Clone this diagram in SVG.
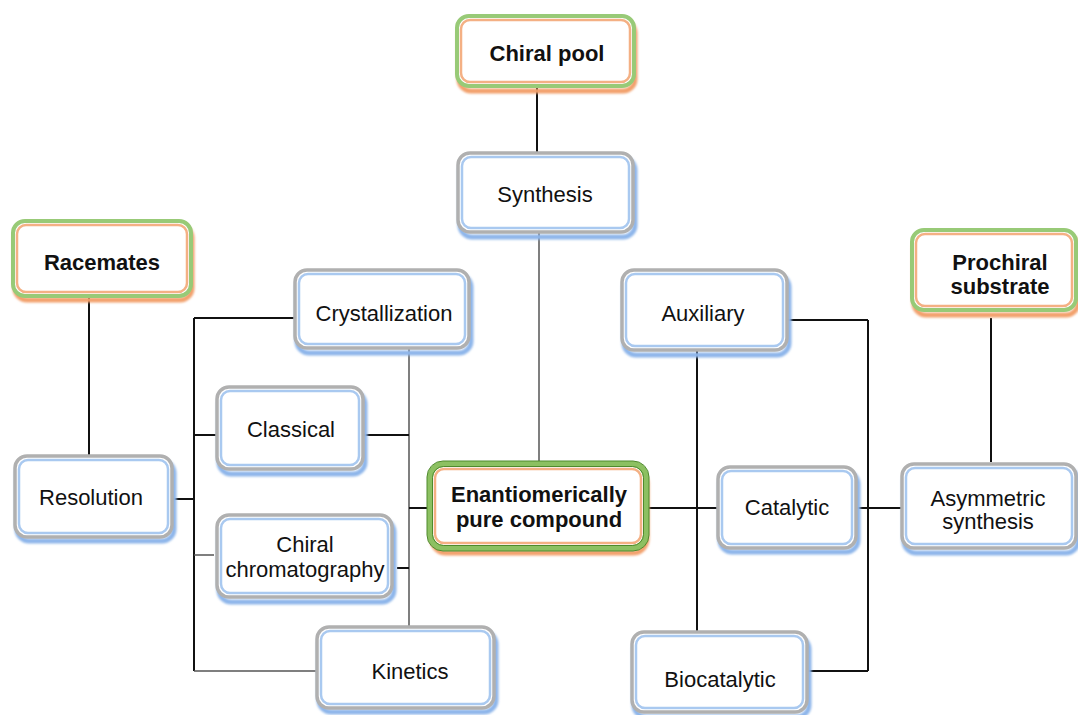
<svg xmlns="http://www.w3.org/2000/svg" width="1078" height="715" viewBox="0 0 1078 715">
<style>
.bg{fill:#fff}
.bsh{fill:none;stroke:#8db5ea;stroke-width:5;filter:url(#blur)}
.bbox{fill:#fff;stroke:#b0b0b0;stroke-width:3.5}
.bin{fill:none;stroke:#a9c9f0;stroke-width:2.5}
.osh{fill:none;stroke:#f2a06c;stroke-width:5;filter:url(#blur)}
.gbox{fill:#fff;stroke:#98ca77;stroke-width:4}
.oin{fill:none;stroke:#f4b084;stroke-width:2.5}
.ebox{fill:#fff;stroke:#8cc061;stroke-width:6}
.eline{fill:none;stroke:#4e8a2c;stroke-width:1}
.t{font-family:"Liberation Sans",Arial,sans-serif;font-size:22px;fill:#111;text-anchor:middle}
.tb{font-family:"Liberation Sans",Arial,sans-serif;font-size:22px;font-weight:bold;fill:#111;text-anchor:middle}
.c{stroke:#111;stroke-width:2;fill:none}
.cg{stroke:#555;stroke-width:1.5;fill:none}
</style>
<defs>
<filter id="blur" x="-10%" y="-10%" width="120%" height="130%"><feGaussianBlur stdDeviation="1.2"/></filter>
</defs>
<rect class="bg" x="0" y="0" width="1078" height="715"/>

<g id="connectors">
<line class="c" x1="537" y1="87" x2="537" y2="153"/>
<line class="cg" x1="539" y1="228" x2="539" y2="464"/>
<line class="c" x1="89" y1="292" x2="89" y2="458"/>
<line class="c" x1="165" y1="499" x2="195" y2="499"/>
<line class="c" x1="194" y1="318" x2="194" y2="671"/>
<line class="c" x1="194" y1="318" x2="295" y2="318"/>
<line class="c" x1="194" y1="435" x2="217" y2="435"/>
<line class="cg" x1="194" y1="555" x2="214" y2="555"/>
<line class="cg" x1="194" y1="671" x2="318" y2="671"/>
<line class="cg" x1="409" y1="345" x2="409" y2="627"/>
<line class="c" x1="360" y1="435" x2="409" y2="435"/>
<line class="c" x1="397" y1="568" x2="409" y2="568"/>
<line class="c" x1="409" y1="508" x2="430" y2="508"/>
<line class="c" x1="646" y1="508" x2="718" y2="508"/>
<line class="c" x1="697" y1="345" x2="697" y2="632"/>
<line class="c" x1="788" y1="320" x2="868" y2="320"/>
<line class="c" x1="868" y1="320" x2="868" y2="671"/>
<line class="c" x1="808" y1="671" x2="868" y2="671"/>
<line class="c" x1="855" y1="508" x2="902" y2="508"/>
<line class="c" x1="991" y1="318" x2="991" y2="462"/>
</g>

<g id="chiral-pool">
<rect class="osh" x="459" y="21" width="176" height="70" rx="12"/>
<rect class="gbox" x="457" y="16" width="177" height="70" rx="12"/>
<rect class="oin" x="461" y="20" width="169" height="62" rx="9"/>
<text class="tb" x="547" y="61">Chiral pool</text>
</g>

<g id="synthesis">
<rect class="bsh" x="460" y="158" width="175" height="79" rx="12"/>
<rect class="bbox" x="458" y="153" width="175" height="79" rx="12"/>
<rect class="bin" x="462" y="157" width="167" height="71" rx="9"/>
<text class="t" x="545" y="202">Synthesis</text>
</g>

<g id="racemates">
<rect class="osh" x="15" y="226" width="177" height="74" rx="12"/>
<rect class="gbox" x="13" y="221" width="178" height="75" rx="12"/>
<rect class="oin" x="17" y="225" width="170" height="67" rx="9"/>
<text class="tb" x="102" y="270">Racemates</text>
</g>

<g id="crystallization">
<rect class="bsh" x="297" y="275" width="174" height="78" rx="12"/>
<rect class="bbox" x="295" y="270" width="174" height="78" rx="12"/>
<rect class="bin" x="299" y="274" width="166" height="70" rx="9"/>
<text class="t" x="384" y="321">Crystallization</text>
</g>

<g id="auxiliary">
<rect class="bsh" x="624" y="275" width="165" height="80" rx="12"/>
<rect class="bbox" x="622" y="270" width="165" height="80" rx="12"/>
<rect class="bin" x="626" y="274" width="157" height="72" rx="9"/>
<text class="t" x="703" y="321">Auxiliary</text>
</g>

<g id="prochiral-substrate">
<rect class="osh" x="914" y="235" width="164" height="80" rx="12"/>
<rect class="gbox" x="912" y="230" width="164" height="80" rx="12"/>
<rect class="oin" x="916" y="234" width="156" height="72" rx="9"/>
<text class="tb" x="1000" y="270">Prochiral</text>
<text class="tb" x="1000" y="294">substrate</text>
</g>

<g id="classical">
<rect class="bsh" x="219" y="392" width="146" height="82" rx="12"/>
<rect class="bbox" x="217" y="387" width="146" height="82" rx="12"/>
<rect class="bin" x="221" y="391" width="138" height="74" rx="9"/>
<text class="t" x="291" y="437">Classical</text>
</g>

<g id="resolution">
<rect class="bsh" x="17" y="461" width="157" height="80" rx="12"/>
<rect class="bbox" x="15" y="456" width="157" height="81" rx="12"/>
<rect class="bin" x="19" y="460" width="149" height="73" rx="9"/>
<text class="t" x="91" y="505">Resolution</text>
</g>

<g id="enantiomerically-pure-compound">
<rect class="osh" x="432" y="470" width="215" height="83" rx="14"/>
<rect class="ebox" x="430" y="464" width="216" height="84" rx="14"/>
<rect class="eline" x="427" y="461" width="222" height="90" rx="16"/>
<rect class="eline" x="432.5" y="466.5" width="211" height="79" rx="11"/>
<rect class="oin" x="435" y="469" width="206" height="74" rx="9"/>
<text class="tb" x="539" y="502">Enantiomerically</text>
<text class="tb" x="539" y="527">pure compound</text>
</g>

<g id="catalytic">
<rect class="bsh" x="720" y="472" width="138" height="80" rx="12"/>
<rect class="bbox" x="718" y="467" width="138" height="81" rx="12"/>
<rect class="bin" x="722" y="471" width="130" height="73" rx="9"/>
<text class="t" x="787" y="515">Catalytic</text>
</g>

<g id="asymmetric-synthesis">
<rect class="bsh" x="904" y="469" width="174" height="84" rx="12"/>
<rect class="bbox" x="902" y="464" width="174" height="84" rx="12"/>
<rect class="bin" x="906" y="468" width="166" height="76" rx="9"/>
<text class="t" x="988" y="506">Asymmetric</text>
<text class="t" x="988" y="529">synthesis</text>
</g>

<g id="chiral-chromatography">
<rect class="bsh" x="219" y="520" width="175" height="82" rx="12"/>
<rect class="bbox" x="217" y="515" width="175" height="82" rx="12"/>
<rect class="bin" x="221" y="519" width="167" height="74" rx="9"/>
<text class="t" x="305" y="552">Chiral</text>
<text class="t" x="305" y="577">chromatography</text>
</g>

<g id="kinetics">
<rect class="bsh" x="319" y="632" width="177" height="80" rx="12"/>
<rect class="bbox" x="317" y="627" width="177" height="81" rx="12"/>
<rect class="bin" x="321" y="631" width="169" height="73" rx="9"/>
<text class="t" x="410" y="679">Kinetics</text>
</g>

<g id="biocatalytic">
<rect class="bsh" x="634" y="637" width="175" height="80" rx="12"/>
<rect class="bbox" x="632" y="632" width="175" height="80" rx="12"/>
<rect class="bin" x="636" y="636" width="167" height="72" rx="9"/>
<text class="t" x="720" y="687">Biocatalytic</text>
</g>
</svg>
